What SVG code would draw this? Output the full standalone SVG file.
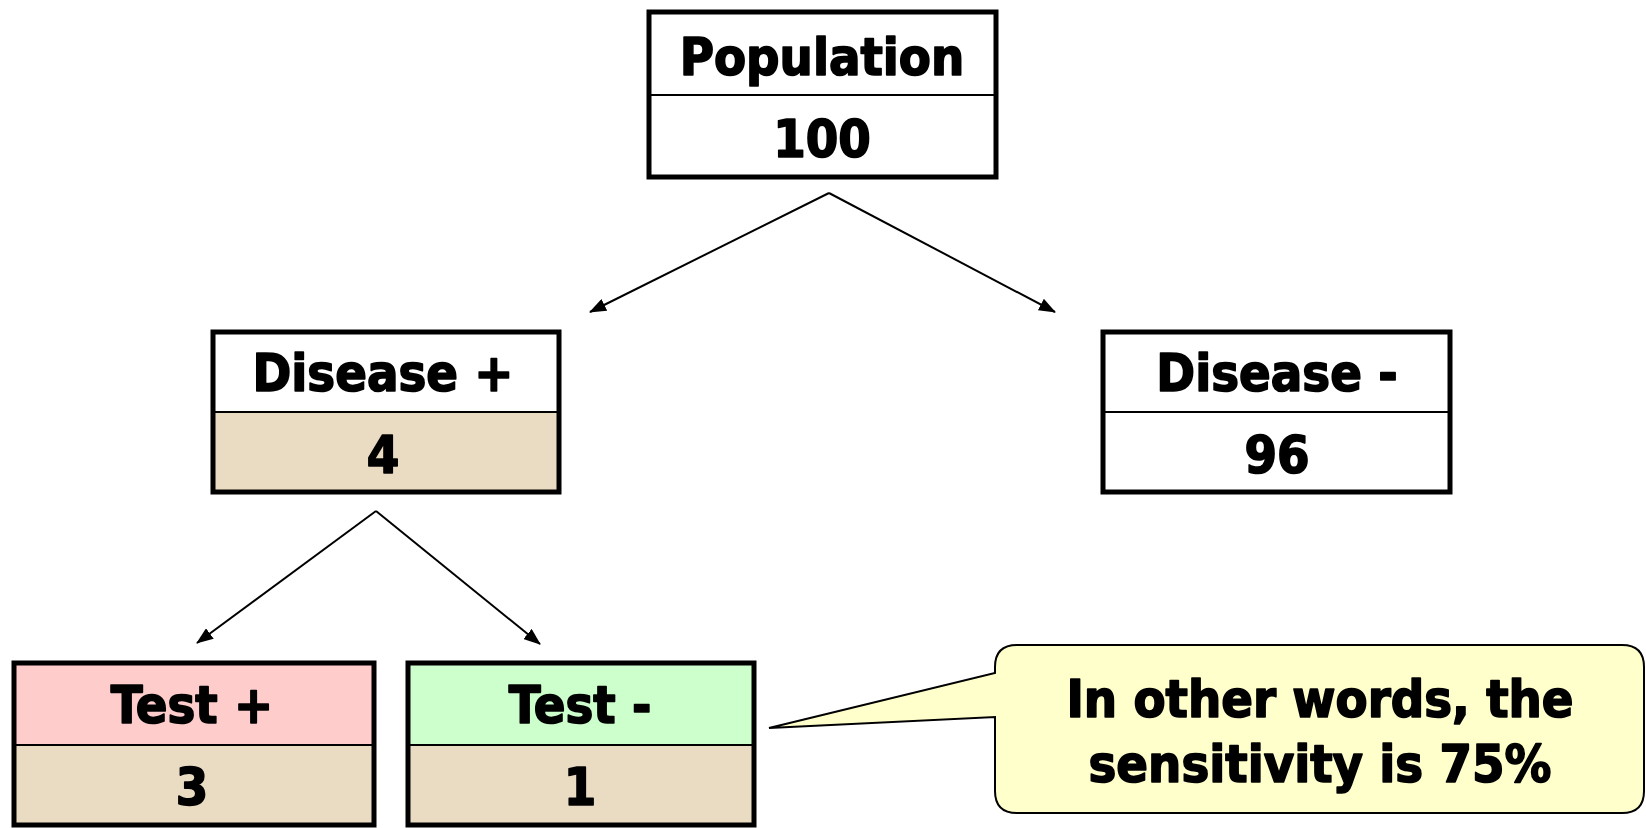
<svg xmlns="http://www.w3.org/2000/svg" width="1646" height="828" viewBox="0 0 1646 828">
  <style>
    .box { stroke: #000; stroke-width: 5; }
    .div { stroke: #000; stroke-width: 2; }
    .lbl { font-family: "DejaVu Sans Condensed", "DejaVu Sans", sans-serif; font-weight: bold; font-size: 52px; fill: #000; stroke: #000; stroke-width: 1.6; stroke-linejoin: round; text-anchor: middle; }
    .conn { stroke: #000; stroke-width: 2; fill: none; marker-end: url(#arrow); }
  </style>
  <defs>
    <marker id="arrow" viewBox="0 0 17 13" refX="16" refY="6.5" markerWidth="17" markerHeight="13" markerUnits="userSpaceOnUse" orient="auto">
      <path d="M0,0 L17,6.5 L0,13 Z" fill="#000"/>
    </marker>
  </defs>
  <rect width="1646" height="828" fill="#fff"/>

  <g id="connectors">
    <path class="conn" d="M829,193 L590,312"/>
    <path class="conn" d="M829,193 L1055,312"/>
    <path class="conn" d="M376,511 L197,643"/>
    <path class="conn" d="M376,511 L540,644"/>
  </g>

  <g id="population">
    <rect class="box" x="649" y="12" width="347" height="165" fill="#fff"/>
    <line class="div" x1="649" y1="95" x2="996" y2="95"/>
    <text class="lbl" x="822" y="75">Population</text>
    <text class="lbl" x="822" y="157">100</text>
  </g>

  <g id="disease-pos">
    <rect x="213" y="412" width="346" height="80" fill="#EADCC2"/>
    <rect class="box" x="213" y="332" width="346" height="160" fill="none"/>
    <line class="div" x1="213" y1="412" x2="559" y2="412"/>
    <text class="lbl" x="383" y="391">Disease +</text>
    <text class="lbl" x="383" y="473">4</text>
  </g>

  <g id="disease-neg">
    <rect class="box" x="1103" y="332" width="347" height="160" fill="#fff"/>
    <line class="div" x1="1103" y1="412" x2="1450" y2="412"/>
    <text class="lbl" x="1277" y="391">Disease -</text>
    <text class="lbl" x="1277" y="473">96</text>
  </g>

  <g id="test-pos">
    <rect x="14" y="663" width="360" height="82" fill="#FFCCCC"/>
    <rect x="14" y="745" width="360" height="80" fill="#EADCC2"/>
    <rect class="box" x="14" y="663" width="360" height="162" fill="none"/>
    <line class="div" x1="14" y1="745" x2="374" y2="745"/>
    <text class="lbl" x="192" y="723">Test +</text>
    <text class="lbl" x="192" y="805">3</text>
  </g>

  <g id="test-neg">
    <rect x="408" y="663" width="346" height="82" fill="#CCFFCC"/>
    <rect x="408" y="745" width="346" height="80" fill="#EADCC2"/>
    <rect class="box" x="408" y="663" width="346" height="162" fill="none"/>
    <line class="div" x1="408" y1="745" x2="754" y2="745"/>
    <text class="lbl" x="580" y="723">Test -</text>
    <text class="lbl" x="580" y="805">1</text>
  </g>

  <g id="callout">
    <path d="M1017,645 L1622,645 Q1644,645 1644,667 L1644,791 Q1644,813 1622,813 L1017,813 Q995,813 995,791 L995,717 L769,728 L995,673 L995,667 Q995,645 1017,645 Z" fill="#FFFFCC" stroke="#000" stroke-width="2"/>
    <text class="lbl" x="1320" y="717">In other words, the</text>
    <text class="lbl" x="1320" y="782">sensitivity is 75%</text>
  </g>
</svg>
